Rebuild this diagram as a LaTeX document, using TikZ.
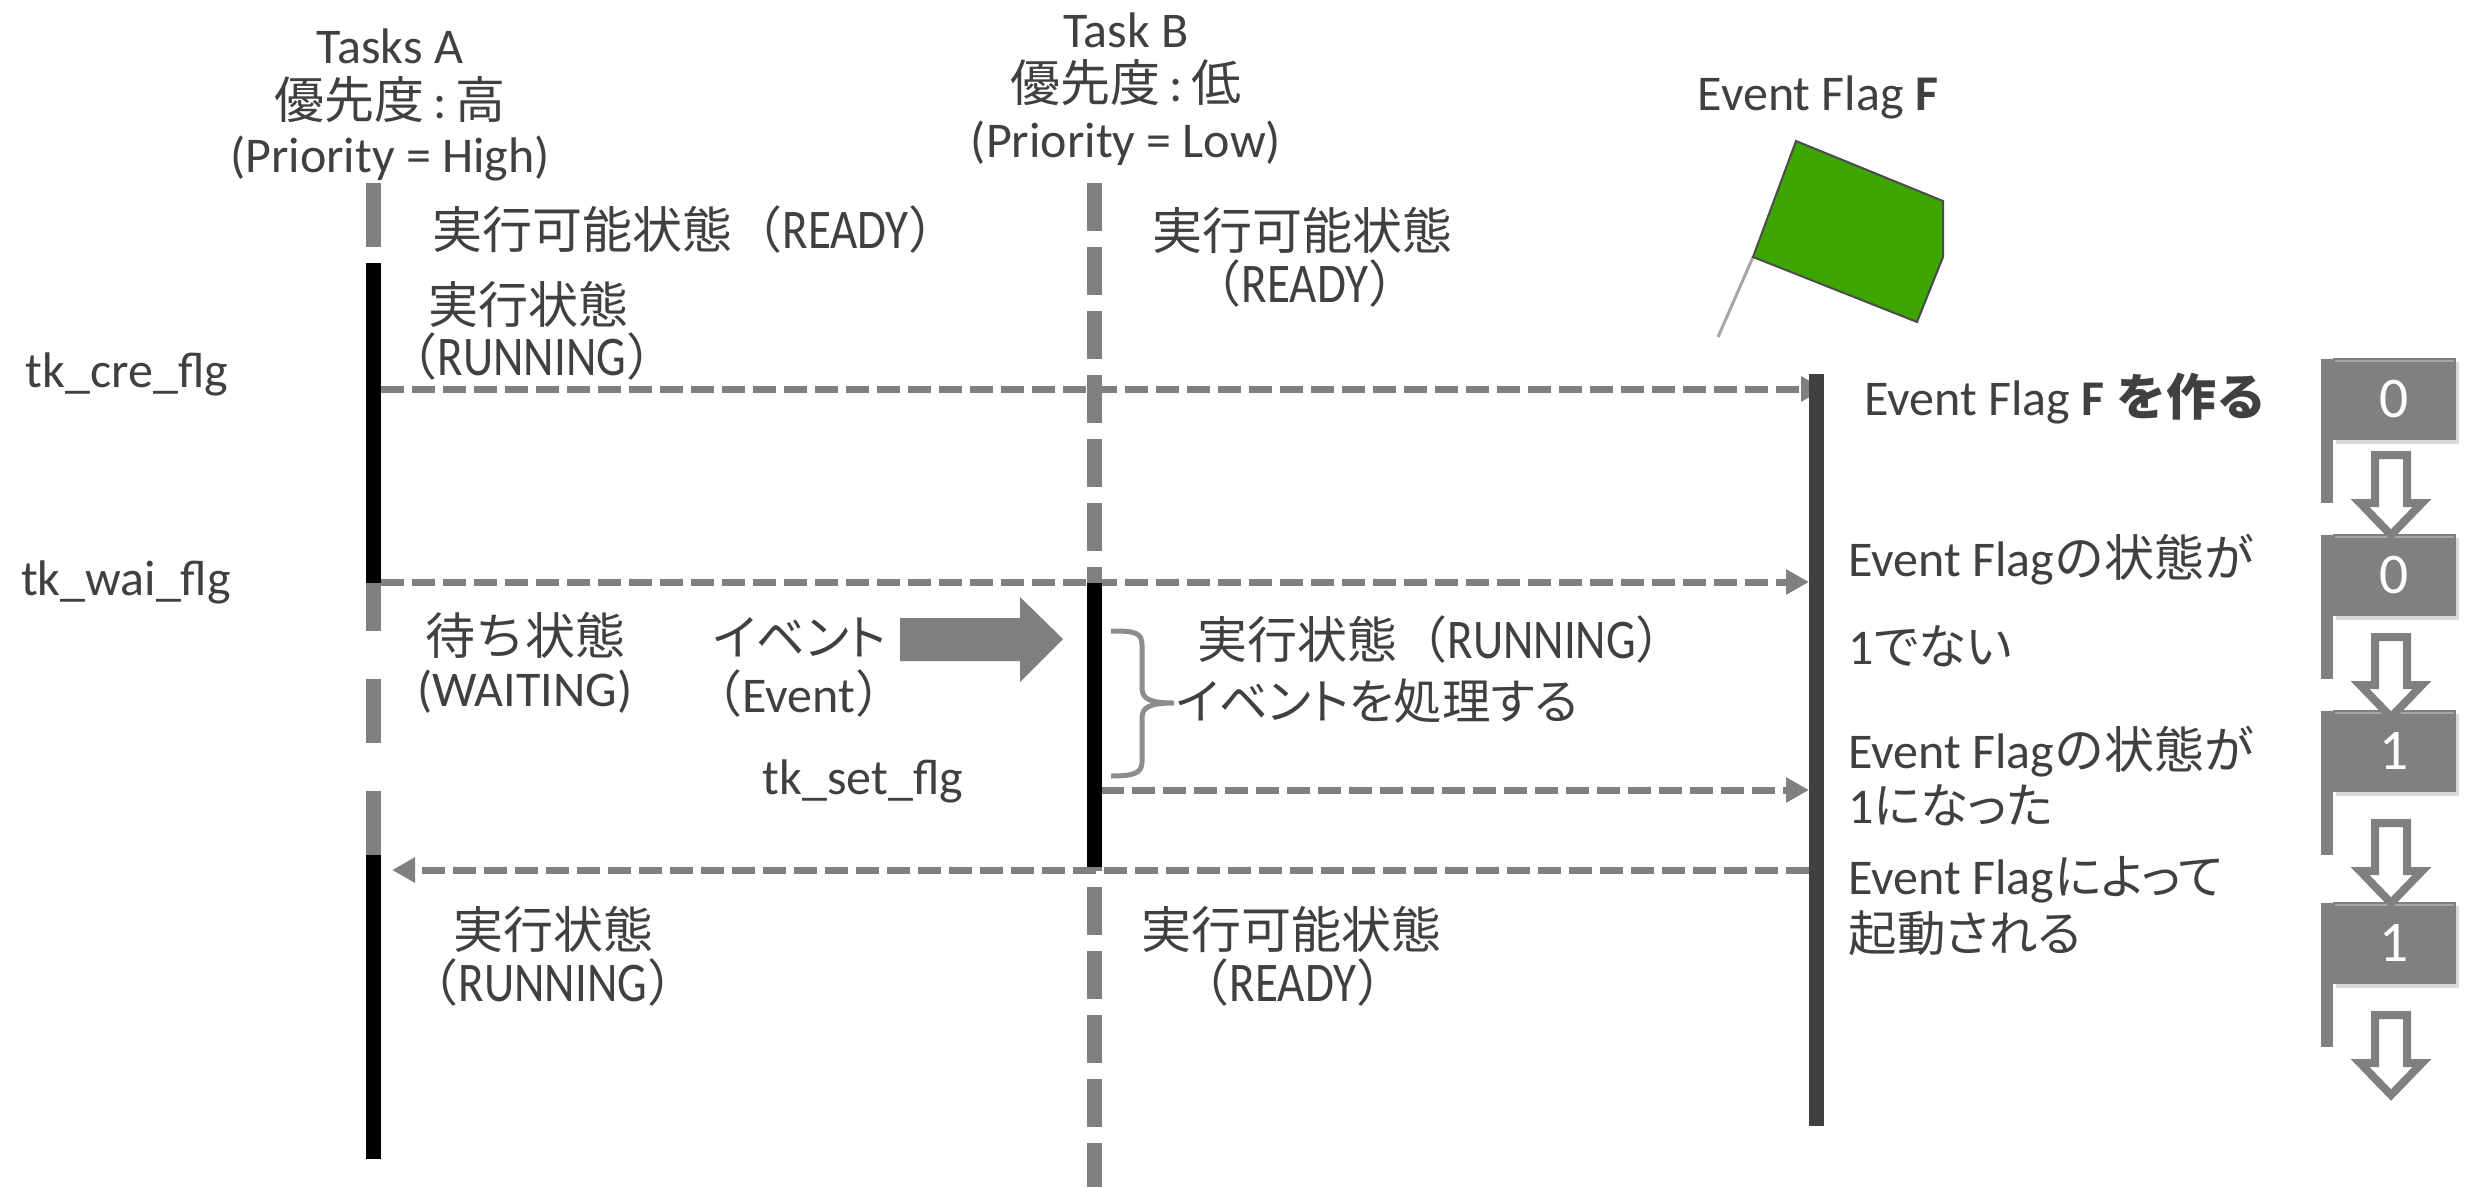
\documentclass[tikz,border=0pt]{standalone}
\usepackage{fontspec}
\setmainfont{Carlito}
\newfontfamily\jp{Noto Sans CJK JP}
\newfontfamily\jpk[RawFeature=+palt,Scale=0.97]{Noto Sans CJK JP}
\newfontfamily\nar[FakeStretch=0.84,Scale=1.12]{Carlito}
\usetikzlibrary{arrows.meta}
\usetikzlibrary{shadows}
\definecolor{txtgray}{HTML}{404040}
\definecolor{linegray}{HTML}{808080}
\definecolor{flaggreen}{HTML}{3CA500}
\tikzstyle{lbl}=[text=txtgray,font=\fontsize{20}{24}\selectfont,inner sep=0pt]
\tikzstyle{flagbody}=[fill=linegray,text=white,font=\fontsize{23}{27}\selectfont,minimum width=49.2pt,minimum height=32.8pt,inner sep=0pt,drop shadow={opacity=0.3,shadow xshift=1pt,shadow yshift=-1.5pt}]
\tikzstyle{flow}=[draw=linegray,line width=2.8pt,dash pattern=on 9.2pt off 3.2pt,-{Triangle[length=9.2pt,width=9.6pt]}]
\tikzstyle{lifegray}=[draw=linegray,line width=6pt]
\tikzstyle{lifeblack}=[draw=black,line width=6pt]
\tikzstyle{hollowarrow}=[draw=linegray,fill=white,line width=3.2pt,miter limit=10]
\begin{document}
\begin{tikzpicture}[x=0.4pt,y=-0.4pt]
			\useasboundingbox (0,0) rectangle (2466,1187);

			\coordinate (aTop) at (373.5,183);
			\coordinate (aReady) at (373.5,247);
			\coordinate (aRun1) at (373.5,263);
			\coordinate (aRun1end) at (373.5,583);
			\coordinate (aRun2) at (373.5,855);
			\coordinate (aEnd) at (373.5,1159);
			\coordinate (bTop) at (1094,183);
			\coordinate (bEnd) at (1094,1187);
			\coordinate (bRun) at (1094,583);
			\coordinate (bRunend) at (1094,867);
			\coordinate (fTop) at (1816,374);
			\coordinate (fEnd) at (1816,1126);

			\coordinate (cre1) at (381,389);
			\coordinate (cre2) at (1824,389);
			\coordinate (wai1) at (381,582);
			\coordinate (wai2) at (1809,582);
			\coordinate (set1) at (1101,790);
			\coordinate (set2) at (1809,790);
			\coordinate (back1) at (1809,870);
			\coordinate (back2) at (392,870);

			% task A
			\draw[lifegray] (aTop) -- (aReady);
			\draw[lifeblack] (aRun1) -- (aRun1end);
			\foreach \ya/\yb in {583/631,679/743,791/855}
				\draw[lifegray] (373.5,\ya) -- (373.5,\yb);
			\draw[lifeblack] (aRun2) -- (aEnd);

			% task B
			\draw[lifegray,dash pattern=on 19.2pt off 6.4pt] (bTop) -- (bEnd);

			% messages
			\draw[flow] (cre1) -- (cre2);
			\draw[flow] (wai1) -- (wai2);
			\draw[flow] (set1) -- (set2);
			\draw[flow] (back1) -- (back2);

			\draw[lifeblack] (bRun) -- (bRunend);
			\draw[draw=txtgray,line width=6pt] (fTop) -- (fEnd);

			% event arrow and brace
			\fill[linegray] (900,618) -- (1020,618) -- (1020,597) -- (1063,639) -- (1020,682) -- (1020,661) -- (900,661) -- cycle;
			\draw[draw=linegray!90,line width=2pt] (1111,631) .. controls (1134,631) and (1142,632) .. (1142,645) -- (1142,688) .. controls (1142,699) and (1150,703) .. (1174,703) .. controls (1150,703) and (1142,707) .. (1142,718) -- (1142,762) .. controls (1142,773) and (1134,776) .. (1111,776);

			% green flag
			\draw[draw=linegray!70,line width=1.2pt] (1753,257) -- (1718,337);
			\draw[draw=black!70,line width=0.8pt,fill=flaggreen] (1796,141) -- (1943,201) -- (1943,257) -- (1917,322) -- (1753,257) -- cycle;

			\node[lbl] (taskA) at (390,46) {Tasks A};
			\node[lbl] (prioA) at (390,100) {{\jp 優先度}\,:\,{\jp 高}};
			\node[lbl] (prioAen) at (390,159) {(Priority = High)};
			\node[lbl] (taskB) at (1126,30) {Task B};
			\node[lbl] (prioB) at (1126,83) {{\jp 優先度}\,:\,{\jp 低}};
			\node[lbl] (prioBen) at (1126,143) {(Priority = Low)};
			\node[lbl] (flagF) at (1818,97) {Event Flag \textbf{F}};

			\node[lbl,anchor=west] (readyA) at (432,229) {{\jp 実行可能状態（}{\nar READY}{\jp ）}};
			\node[lbl] (runA) at (528,304) {{\jp 実行状態}};
			\node[lbl] (runAen) at (532,356) {{\jp （}{\nar RUNNING}{\jp ）}};
			\node[lbl] (readyB) at (1302,230) {{\jp 実行可能状態}};
			\node[lbl] (readyBen) at (1305,283) {{\jp （}{\nar READY}{\jp ）}};

			\node[lbl] (cre) at (127,374) {tk\_cre\_flg};
			\node[lbl] (wai) at (126,582) {tk\_wai\_flg};
			\node[lbl] (waitA) at (525,635) {{\jp 待ち状態}};
			\node[lbl] (waitAen) at (525,692) {(WAITING)};
			\node[lbl] (event) at (800,637) {{\jpk イベント}};
			\node[lbl] (eventen) at (799,693) {{\jp （}Event{\jp ）}};
			\node[lbl] (set) at (863,781) {tk\_set\_flg};
			\node[lbl,anchor=west] (runB) at (1197,639) {{\jp 実行状態（}{\nar RUNNING}{\jp ）}};
			\node[lbl,anchor=west] (handle) at (1176,701) {{\jpk イベントを処理する}};
			\node[lbl] (runA2) at (553,929) {{\jp 実行状態}};
			\node[lbl] (runA2en) at (553,982) {{\jp （}{\nar RUNNING}{\jp ）}};
			\node[lbl] (readyB2) at (1291,929) {{\jp 実行可能状態}};
			\node[lbl] (readyB2en) at (1293,982) {{\jp （}{\nar READY}{\jp ）}};

			\node[lbl,anchor=west] (make) at (1864,399) {Event Flag \textbf{F} {\jp\bfseries を作る}};
			\node[lbl,anchor=west] (not1a) at (1848,560) {Event Flag{\jp の状態が}};
			\node[lbl,anchor=west] (not1b) at (1848,646) {1{\jpk でない}};
			\node[lbl,anchor=west] (is1a) at (1848,752) {Event Flag{\jp の状態が}};
			\node[lbl,anchor=west] (is1b) at (1848,805) {1{\jpk になった}};
			\node[lbl,anchor=west] (wake1) at (1848,880) {Event Flag{\jpk によって}};
			\node[lbl,anchor=west] (wake2) at (1848,933) {{\jpk 起動される}};

			% flag column
			\foreach \name/\yy/\val in {flag1/399/0,flag2/575/0,flag3/751/1,flag4/943/1}{
				\fill[linegray] (2321,\yy-40) rectangle (2333,\yy+104);
				\node[flagbody] (\name) at (2394.5,\yy) {\val};
				\draw[draw=linegray!70,line width=1pt] (2335,\yy-38) -- (2454,\yy-38);
			}
			\foreach \y in {451,633,819,1011}
				\draw[hollowarrow,shift={(2391,\y)}] (-16,4) -- (16,4) -- (16,52) -- (31,52) -- (0,84) -- (-31,52) -- (-16,52) -- cycle;
\end{tikzpicture}
\end{document}
